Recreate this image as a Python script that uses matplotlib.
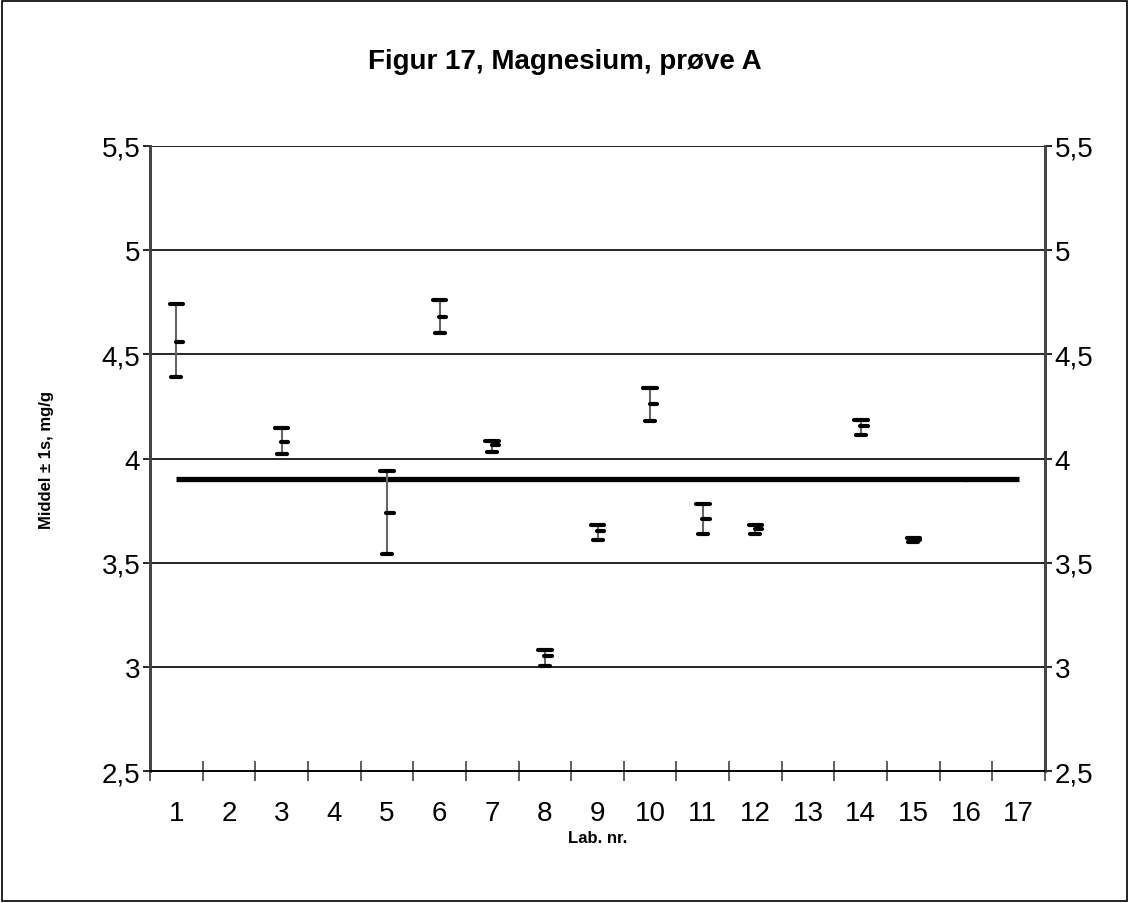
import matplotlib.pyplot as plt
import matplotlib.patches as mpatches

plt.rcParams['font.family'] = ['Liberation Sans', 'DejaVu Sans']

# lab number, high (mean+1s), mean, low (mean-1s)
labs = [1, 3, 5, 6, 7, 8, 9, 10, 11, 12, 14, 15, 16]
high = [4.74, 4.145, 3.94, 4.76, 4.085, 3.08, 3.68, 4.34, 3.78, 3.68, 4.185, 3.62, 3.90]
mean = [4.56, 4.08, 3.74, 4.68, 4.065, 3.05, 3.65, 4.26, 3.71, 3.66, 4.155, 3.61, 3.90]
low = [4.39, 4.02, 3.54, 4.60, 4.03, 3.005, 3.61, 4.18, 3.64, 3.64, 4.115, 3.60, 3.90]
ref_value = 3.9
categories = list(range(1, 18))

fig = plt.figure(figsize=(11.29, 9.04), dpi=100)
ax = fig.add_axes([0.1329, 0.146, 0.7927, 0.6914])

# gridlines
for v in [3.0, 3.5, 4.0, 4.5, 5.0, 5.5]:
    ax.axhline(v, color='black', lw=1.2, zorder=1)

# reference line
ax.plot([categories[0], categories[-1]], [ref_value, ref_value], color='black', lw=3.8, zorder=2,
        solid_capstyle='butt')

# high-low-mean markers
for x, h, m, l in zip(labs, high, mean, low):
    if h == l:
        ax.plot([x, x], [m - 0.006, m + 0.006], color='black', lw=1, zorder=3)
        continue
    ax.plot([x, x], [l, h], color='#666666', lw=1.5, zorder=3)
    ax.plot([x - 0.13, x + 0.13], [h, h], color='black', lw=3, zorder=4, solid_capstyle='round')
    ax.plot([x - 0.095, x + 0.095], [l, l], color='black', lw=3, zorder=4, solid_capstyle='round')
    ax.plot([x - 0.01, x + 0.13], [m, m], color='black', lw=3, zorder=4, solid_capstyle='round')

ax.set_xlim(0.5, 17.5)
ax.set_ylim(2.5, 5.5)

ax.set_xticks(categories)
ax.set_xticklabels([str(c) for c in categories], fontsize=20)
ax.set_xticks([c + 0.5 for c in range(0, 18)], minor=True)
ax.tick_params(axis='x', which='major', length=0, pad=21)
ax.tick_params(axis='x', which='minor', direction='inout', length=14, width=1.2, color='#444444')

yt = [2.5, 3.0, 3.5, 4.0, 4.5, 5.0, 5.5]
ylabels = [('%g' % v).replace('.', ',') for v in yt]
ax.set_yticks(yt)
ax.set_yticklabels(ylabels, fontsize=20)
ax.tick_params(axis='y', direction='out', length=5, width=1.2, pad=2)

ax2 = ax.twinx()
ax2.set_ylim(2.5, 5.5)
ax2.set_yticks(yt)
ax2.set_yticklabels(ylabels, fontsize=20)
ax2.tick_params(axis='y', direction='out', length=5, width=1.2, pad=2)

for a in (ax, ax2):
    a.spines['top'].set_visible(False)
    a.spines['left'].set_color('#444444')
    a.spines['right'].set_color('#444444')
    a.spines['left'].set_linewidth(2)
    a.spines['right'].set_linewidth(2)
    a.spines['bottom'].set_linewidth(1.2)

ax.set_ylabel('Middel ± 1s, mg/g', fontsize=12, fontweight='bold', labelpad=34)
ax.set_xlabel('Lab. nr.', fontsize=12, fontweight='bold', labelpad=3)
fig.text(0.5, 1 - 62 / 904, 'Figur 17, Magnesium, prøve A', fontsize=20, fontweight='bold',
         ha='center', va='center')

fig.patches.append(mpatches.Rectangle((0.002, 0.002), 0.996, 0.996, transform=fig.transFigure,
                                      fill=False, edgecolor='black', lw=1.2))

fig.savefig('out.png', dpi=100)
